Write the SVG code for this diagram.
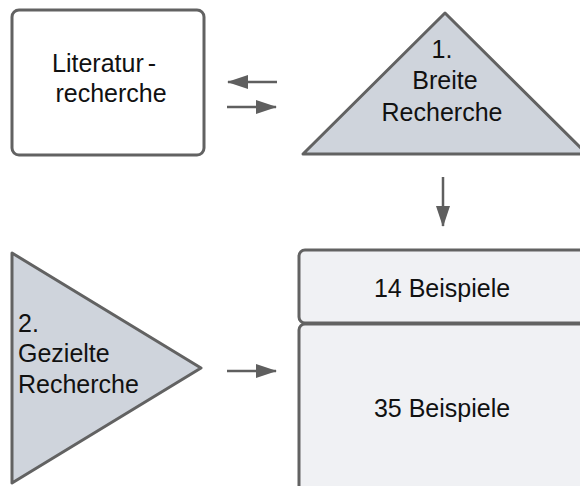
<svg xmlns="http://www.w3.org/2000/svg" width="580" height="486" viewBox="0 0 580 486">
<style>
.shape{stroke:#626262;stroke-width:3;stroke-linejoin:round}
.t{font-family:"Liberation Sans",Arial,sans-serif;font-size:25px;fill:#111}
.c{text-anchor:middle}
.conn{stroke:#5f5f5f;stroke-width:2.5;fill:none}
</style>
<defs>
<marker id="ah" markerWidth="21" markerHeight="14" refX="20" refY="7" orient="auto" markerUnits="userSpaceOnUse">
<path d="M0,0 L21,7 L0,14 Z" fill="#5f5f5f"/>
</marker>
</defs>
<g id="literatur">
<rect class="shape" x="12" y="10" width="192" height="145" rx="7" fill="#ffffff"/>
<text class="t" x="52" y="72">Literatur<tspan dx="4">-</tspan></text>
<text class="t c" x="111" y="102">recherche</text>
</g>
<g id="breite">
<path class="shape" d="M445,13 L587,154 L303,154 Z" fill="#cfd4dc"/>
<text class="t c" x="442" y="58">1.</text>
<text class="t c" x="445" y="89">Breite</text>
<text class="t c" x="442" y="121">Recherche</text>
</g>
<g id="b14">
<rect class="shape" x="299" y="250" width="290" height="73" rx="6" fill="#f0f1f4"/>
<text class="t c" x="442" y="297">14 Beispiele</text>
</g>
<g id="b35">
<rect class="shape" x="299" y="324" width="290" height="180" rx="6" fill="#f0f1f4"/>
<text class="t c" x="442" y="417">35 Beispiele</text>
</g>
<g id="gezielte">
<path class="shape" d="M12,253 L201,368 L12,483 Z" fill="#cfd4dc"/>
<text class="t" x="18" y="332">2.</text>
<text class="t" x="18" y="362">Gezielte</text>
<text class="t" x="18" y="393">Recherche</text>
</g>
<g id="connectors">
<line class="conn" x1="277" y1="82" x2="228" y2="82" marker-end="url(#ah)"/>
<line class="conn" x1="227" y1="107" x2="276" y2="107" marker-end="url(#ah)"/>
<line class="conn" x1="443" y1="177" x2="443" y2="226" marker-end="url(#ah)"/>
<line class="conn" x1="227" y1="371" x2="276" y2="371" marker-end="url(#ah)"/>
</g>
</svg>
